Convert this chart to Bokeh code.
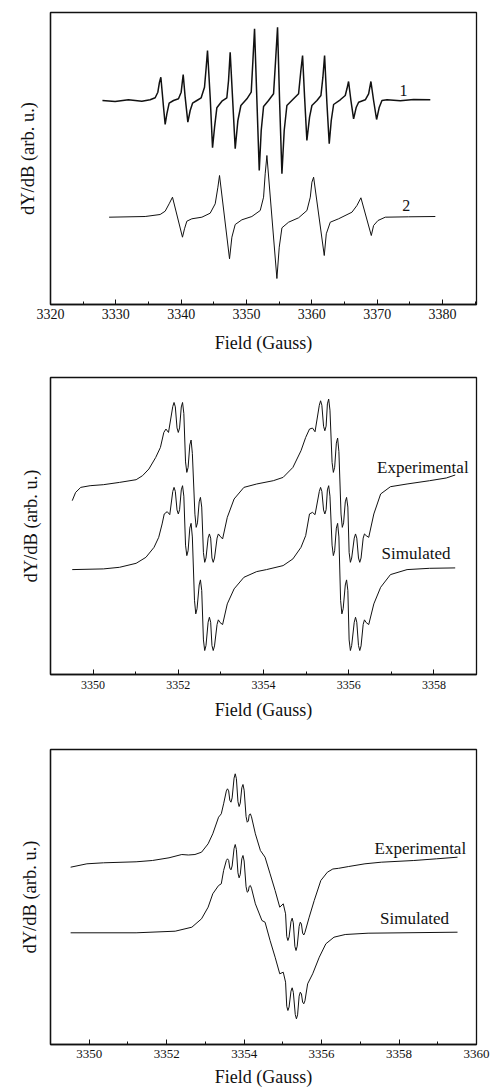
from bokeh.plotting import figure
from bokeh.models import Range1d, FixedTicker, ColumnDataSource
from bokeh.layouts import column
from bokeh.embed import file_html
from bokeh.resources import INLINE
from bokeh.core.properties import value

SERIF = "Liberation Serif"
INK = "#111111"

# ---------------- Panel 1 data ----------------
p1_ticks = [3320, 3330, 3340, 3350, 3360, 3370, 3380]
p1_minor = [3325, 3335, 3345, 3355, 3365, 3375, 3385]

p1_s1_field = [3327.95, 3329.89, 3331.93, 3333.98, 3335.25, 3336.02, 3336.43, 3336.68, 3336.89,
               3337.30, 3337.55, 3337.81, 3338.16, 3338.83, 3339.59, 3340.00, 3340.20, 3340.31,
               3340.61, 3341.02, 3341.38, 3341.74, 3342.40, 3343.06, 3343.57, 3343.83, 3344.03,
               3344.44, 3344.80, 3345.11, 3345.46, 3346.23, 3346.99, 3347.25, 3347.50, 3347.86,
               3348.27, 3348.68, 3349.14, 3350.06, 3350.72, 3350.98, 3351.23, 3351.59, 3351.95,
               3352.25, 3352.61, 3353.37, 3354.14, 3354.45, 3354.75, 3355.06, 3355.42, 3355.77,
               3356.18, 3357.20, 3357.97, 3358.32, 3358.58, 3358.89, 3359.24, 3359.65, 3360.01,
               3360.78, 3361.39, 3361.69, 3361.95, 3362.31, 3362.66, 3362.97, 3363.33, 3364.35,
               3365.11, 3365.37, 3365.62, 3365.98, 3366.39, 3366.80, 3367.16, 3368.18, 3368.69,
               3369.04, 3369.45, 3369.91, 3370.32, 3370.73, 3371.50, 3373.54, 3375.58, 3378.13]
p1_s1_signal = [204, 203, 204.7, 203.3, 204.7, 206.7, 212.3, 222.3, 227.3,
                197.3, 180, 190.7, 201.3, 204, 205.7, 212.3, 224, 230,
                207.3, 182.3, 194, 201.3, 204, 206.7, 217.3, 237.3, 254,
                207.3, 156.7, 177.3, 196.7, 203.3, 206.7, 224, 252.3, 207.3,
                155.7, 184, 199, 205.7, 212.3, 244, 275.7, 204, 134,
                174, 198, 204, 210.7, 244, 277.3, 204, 130.7, 174,
                199, 205.7, 210.7, 234, 249, 207.3, 164, 187.3, 199,
                204, 209, 227.3, 249, 200.7, 160.7, 184, 200, 204.7,
                209, 215.7, 223, 204, 185.7, 197.3, 202.3, 204.7, 210.7,
                223, 204, 185, 197.3, 204, 204.7, 203.7, 205, 204.7]

p1_s2_field = [3328.97, 3334.49, 3336.78, 3337.55, 3338.16, 3338.67, 3340.20, 3340.51, 3340.87,
               3341.63, 3343.17, 3344.44, 3345.21, 3345.62, 3345.87, 3347.40, 3347.76, 3348.27,
               3349.29, 3350.82, 3352.10, 3352.61, 3352.86, 3353.12, 3354.65, 3355.01, 3355.42,
               3356.44, 3357.97, 3359.25, 3359.76, 3360.01, 3360.27, 3361.90, 3362.21, 3362.82,
               3364.09, 3366.14, 3366.90, 3367.51, 3369.10, 3369.45, 3370.12, 3371.24, 3374.81,
               3378.90]
p1_s2_signal = [87.3, 88, 90, 93.3, 100.7, 107.3, 67.3, 75.7, 83.3,
                85.7, 87.3, 91.3, 100.7, 117.3, 129, 45.7, 67.3, 80,
                84.7, 88, 94, 107.3, 130.7, 149, 26, 57.3, 76.7,
                82.3, 86.7, 94, 107.3, 122.3, 127.3, 49, 70.7, 82.3,
                85.7, 92.3, 99, 106.7, 69, 79, 84, 87.3, 87.7,
                88]

p1_labels = ["1", "2"]
p1_label_field = [3374.04, 3374.46]
p1_label_signal = [214, 99]

# ---------------- Panel 2 data ----------------
p2_ticks = [3350, 3352, 3354, 3356, 3358]
p2_minor = [3351, 3353, 3355, 3357, 3359]

p2_exp_field = [3349.51, 3349.59, 3349.71, 3349.93, 3350.24, 3350.62, 3351.01, 3351.16, 3351.31,
                3351.47, 3351.58, 3351.66, 3351.71, 3351.77, 3351.87, 3351.90, 3351.93, 3351.97,
                3352.00, 3352.03, 3352.07, 3352.10, 3352.13, 3352.17, 3352.20, 3352.23, 3352.27,
                3352.30, 3352.33, 3352.39, 3352.42, 3352.45, 3352.49, 3352.52, 3352.55, 3352.59,
                3352.62, 3352.65, 3352.70, 3352.73, 3352.76, 3352.79, 3352.82, 3352.85, 3352.91,
                3352.94, 3352.98, 3353.04, 3353.15, 3353.31, 3353.54, 3353.84, 3354.23, 3354.46,
                3354.69, 3354.88, 3354.99, 3355.08, 3355.15, 3355.21, 3355.31, 3355.34, 3355.37,
                3355.41, 3355.44, 3355.47, 3355.50, 3355.53, 3355.56, 3355.61, 3355.64, 3355.67,
                3355.71, 3355.74, 3355.77, 3355.82, 3355.85, 3355.88, 3355.92, 3355.95, 3355.98,
                3356.01, 3356.04, 3356.07, 3356.13, 3356.16, 3356.19, 3356.23, 3356.26, 3356.29,
                3356.34, 3356.37, 3356.41, 3356.47, 3356.59, 3356.75, 3356.98, 3357.37, 3357.90,
                3358.29, 3358.50]
p2_exp_signal = [174, 182.3, 187.3, 189, 190, 192.3, 195, 199, 205.7,
                 217.3, 227.3, 242.3, 245.7, 242.3, 268.2, 272.3, 267.9, 246.8,
                 242.3, 246.8, 267.8, 272.3, 261.3, 212.8, 202.3, 207.2, 229.8,
                 234.7, 221.4, 160.5, 147.3, 151.8, 172.8, 177.3, 167.6, 122,
                 112.3, 116.6, 136.5, 140.7, 136.5, 116.6, 112.3, 116.6, 136.5,
                 140.7, 138.5, 135.7, 157.3, 175.7, 187.3, 190.7, 194, 197.3,
                 207.3, 224, 237.3, 245.7, 246.7, 243, 269.5, 274, 269.5,
                 248.5, 244, 248.7, 270.9, 275.7, 264.6, 212.3, 202.3, 207.4,
                 231.6, 236.7, 223.1, 160.6, 147.3, 151.8, 172.8, 177.3, 167.6,
                 122, 112.3, 116.6, 136.5, 140.7, 136.5, 116.6, 112.3, 116.6,
                 136.5, 140.7, 139, 137.3, 160.7, 180.7, 188, 190.7, 194,
                 196.7, 199.7]

p2_sim_field = [3349.51, 3350.24, 3350.62, 3351.01, 3351.24, 3351.43, 3351.54, 3351.62, 3351.67,
                3351.74, 3351.80, 3351.87, 3351.90, 3351.93, 3351.97, 3352.00, 3352.03, 3352.07,
                3352.10, 3352.13, 3352.17, 3352.20, 3352.23, 3352.27, 3352.30, 3352.33, 3352.38,
                3352.41, 3352.44, 3352.49, 3352.52, 3352.55, 3352.59, 3352.62, 3352.65, 3352.70,
                3352.73, 3352.76, 3352.79, 3352.82, 3352.85, 3352.91, 3352.94, 3352.98, 3353.04,
                3353.15, 3353.31, 3353.54, 3353.84, 3354.07, 3354.46, 3354.69, 3354.88, 3354.99,
                3355.08, 3355.15, 3355.21, 3355.31, 3355.34, 3355.37, 3355.41, 3355.44, 3355.47,
                3355.50, 3355.53, 3355.56, 3355.61, 3355.64, 3355.67, 3355.71, 3355.74, 3355.77,
                3355.81, 3355.84, 3355.87, 3355.92, 3355.95, 3355.98, 3356.01, 3356.04, 3356.07,
                3356.13, 3356.16, 3356.19, 3356.23, 3356.26, 3356.29, 3356.34, 3356.37, 3356.41,
                3356.47, 3356.59, 3356.75, 3356.98, 3357.37, 3357.90, 3358.50]
p2_sim_signal = [105, 105.7, 107.3, 111.3, 117.3, 127.3, 137.3, 150.7, 160.7,
                 163, 160, 183.2, 187.3, 183.3, 164.7, 160.7, 164.9, 184.8,
                 189, 178.5, 129.5, 119, 123.9, 146.5, 151.3, 137.7, 74.3,
                 60.7, 65.8, 89.6, 94.7, 84.1, 34.6, 24, 29, 52.3,
                 57.3, 52.3, 29, 24, 28.6, 50.1, 54.7, 52, 50,
                 70.7, 85.7, 97.3, 103, 105, 109, 115.7, 127.3, 139,
                 160.7, 162.3, 160, 183.2, 187.3, 183.3, 164.7, 160.7, 164.9,
                 184.8, 189, 178.5, 129.5, 119, 123.9, 146.5, 151.3, 137.7,
                 74.3, 60.7, 65.8, 89.6, 94.7, 84.1, 34.6, 24, 29,
                 52.3, 57.3, 52.3, 29, 24, 28.6, 50.1, 54.7, 52,
                 50, 70.7, 87.3, 100, 105, 106.3, 106.7]

p2_labels = ["Experimental", "Simulated"]
p2_label_field = [3357.74, 3357.58]
p2_label_signal = [207.3, 120.7]

# ---------------- Panel 3 data ----------------
p3_ticks = [3350, 3352, 3354, 3356, 3358, 3360]
p3_minor = [3351, 3353, 3355, 3357, 3359]

p3_exp_field = [3349.52, 3349.94, 3350.37, 3351.21, 3351.63, 3352.06, 3352.39, 3352.56, 3352.73,
                3352.90, 3353.07, 3353.19, 3353.34, 3353.41, 3353.47, 3353.54, 3353.57, 3353.60,
                3353.63, 3353.66, 3353.69, 3353.74, 3353.77, 3353.80, 3353.84, 3353.87, 3353.90,
                3353.94, 3353.97, 3354.00, 3354.05, 3354.08, 3354.11, 3354.13, 3354.16, 3354.19,
                3354.29, 3354.42, 3354.54, 3354.67, 3354.80, 3354.92, 3355.01, 3355.07, 3355.10,
                3355.13, 3355.16, 3355.21, 3355.24, 3355.27, 3355.31, 3355.34, 3355.37, 3355.42,
                3355.45, 3355.48, 3355.51, 3355.54, 3355.57, 3355.68, 3355.81, 3355.98, 3356.15,
                3356.29, 3356.44, 3356.70, 3357.12, 3357.54, 3358.38, 3358.97, 3359.51]
p3_exp_signal = [177.3, 180.7, 181.7, 182.7, 184, 186.7, 190, 189.5, 190,
                 192.3, 200.7, 210.7, 227.3, 230.7, 240.7, 253.4, 255.7, 253.7,
                 244.3, 242.3, 246.6, 266.4, 270.7, 265.8, 242.9, 238, 241.3,
                 256.7, 260, 254.3, 228, 222.3, 223.6, 229.4, 230.7, 227.7,
                 210.7, 194, 187.3, 170.7, 154, 137.3, 140.7, 130.7, 108,
                 104, 107.4, 122.9, 126.3, 121.7, 98.2, 94, 98.3, 118.1,
                 122.3, 120.4, 111.4, 109.5, 112.2, 127.3, 144, 164, 172.3,
                 175.5, 176.2, 178, 180.7, 182.3, 184, 185.7, 187.3]

p3_sim_field = [3349.52, 3351.21, 3352.22, 3352.65, 3352.90, 3353.07, 3353.19, 3353.34, 3353.41,
                3353.47, 3353.54, 3353.57, 3353.60, 3353.63, 3353.66, 3353.69, 3353.74, 3353.77,
                3353.80, 3353.84, 3353.87, 3353.90, 3353.94, 3353.97, 3354.00, 3354.05, 3354.08,
                3354.11, 3354.13, 3354.16, 3354.19, 3354.29, 3354.46, 3354.54, 3354.67, 3354.80,
                3354.92, 3355.01, 3355.07, 3355.10, 3355.13, 3355.16, 3355.21, 3355.24, 3355.27,
                3355.32, 3355.35, 3355.38, 3355.42, 3355.45, 3355.48, 3355.51, 3355.54, 3355.57,
                3355.64, 3355.77, 3355.94, 3356.11, 3356.32, 3356.61, 3357.20, 3359.51]
p3_sim_signal = [111.7, 111.7, 113.3, 117.3, 125.7, 137.3, 150.7, 159, 160.7,
                 174, 183.9, 185.7, 184.1, 176.4, 174.7, 178.5, 196, 200,
                 195, 171.7, 166.7, 170, 185.7, 189, 183.5, 157.8, 152.3,
                 153.3, 158, 159, 156.3, 140.7, 124, 122.3, 104, 87.3,
                 70.7, 72.3, 62.3, 38.2, 34, 37.4, 53.3, 56.7, 52.2,
                 30.1, 25.7, 29.6, 48.3, 52.3, 50.5, 42.4, 40.7, 43.7,
                 60.7, 70.7, 87.3, 100.7, 107.3, 110, 111.3, 112.3]

p3_labels = ["Experimental", "Simulated"]
p3_label_field = [3358.55, 3358.40]
p3_label_signal = [195.7, 125.7]

X_TITLE = "Field (Gauss)"
Y_TITLE = "dY/dB (arb. u.)"


def make_panel(height, xr, yr, ticks, minor, borders, tick_size, tick_standoff, title_standoff,
               y_standoff):
    left, right, top, bottom = borders
    p = figure(width=493, height=height, x_range=Range1d(*xr), y_range=Range1d(*yr),
               output_backend="svg", toolbar_location=None,
               min_border_left=left, min_border_right=right,
               min_border_top=top, min_border_bottom=bottom)
    p.xgrid.visible = False
    p.ygrid.visible = False
    p.background_fill_color = "white"
    p.border_fill_color = "white"
    p.outline_line_color = INK
    p.outline_line_width = 1.3
    p.outline_line_alpha = 1.0

    ax = p.xaxis[0]
    ax.ticker = FixedTicker(ticks=ticks, minor_ticks=minor)
    ax.axis_line_color = INK
    ax.axis_line_width = 1.3
    ax.major_tick_in = 5
    ax.major_tick_out = 0
    ax.minor_tick_in = 3
    ax.minor_tick_out = 0
    ax.major_tick_line_color = INK
    ax.minor_tick_line_color = INK
    ax.major_label_text_font = SERIF
    ax.major_label_text_font_size = tick_size
    ax.major_label_text_color = INK
    ax.major_label_standoff = tick_standoff
    ax.axis_label = X_TITLE
    ax.axis_label_text_font = SERIF
    ax.axis_label_text_font_size = "18px"
    ax.axis_label_text_font_style = "normal"
    ax.axis_label_text_color = INK
    ax.axis_label_standoff = title_standoff

    ay = p.yaxis[0]
    ay.ticker = FixedTicker(ticks=[], minor_ticks=[])
    ay.axis_line_color = INK
    ay.axis_line_width = 1.3
    ay.major_tick_out = 0
    ay.major_tick_in = 0
    ay.minor_tick_out = 0
    ay.minor_tick_in = 0
    ay.major_label_standoff = 0
    ay.axis_label = Y_TITLE
    ay.axis_label_text_font = SERIF
    ay.axis_label_text_font_size = "18.5px"
    ay.axis_label_text_font_style = "normal"
    ay.axis_label_text_color = INK
    ay.axis_label_standoff = y_standoff
    return p


# Panel 1
p1 = make_panel(360, (3320, 3385.2), (0, 292), p1_ticks, p1_minor, (50, 17, 12, 56),
                "14px", 4, 11, 13)
p1.line(p1_s1_field, p1_s1_signal, line_color=INK, line_width=1.5)
p1.line(p1_s2_field, p1_s2_signal, line_color=INK, line_width=1.0)
src1 = ColumnDataSource(dict(x=p1_label_field, y=p1_label_signal, t=p1_labels))
p1.text(x="x", y="y", text="t", source=src1, text_font=value(SERIF), text_font_size="16px",
        text_align="center", text_baseline="middle", text_color=INK)

# Panel 2
p2 = make_panel(370, (3349, 3359), (0, 297.3), p2_ticks, p2_minor, (46, 12, 17, 56),
                "12px", 6, 8, 10)
p2.line(p2_exp_field, p2_exp_signal, line_color=INK, line_width=1.0)
p2.line(p2_sim_field, p2_sim_signal, line_color=INK, line_width=1.0)
src2 = ColumnDataSource(dict(x=p2_label_field, y=p2_label_signal, t=p2_labels))
p2.text(x="x", y="y", text="t", source=src2, text_font=value(SERIF), text_font_size="17px",
        text_align="center", text_baseline="middle", text_color=INK)

# Panel 3
p3 = make_panel(362, (3349, 3360), (0, 295), p3_ticks, p3_minor, (46, 12, 19, 48),
                "13px", 5, 6, 11)
p3.line(p3_exp_field, p3_exp_signal, line_color=INK, line_width=1.0)
p3.line(p3_sim_field, p3_sim_signal, line_color=INK, line_width=1.0)
src3 = ColumnDataSource(dict(x=p3_label_field, y=p3_label_signal, t=p3_labels))
p3.text(x="x", y="y", text="t", source=src3, text_font=value(SERIF), text_font_size="17px",
        text_align="center", text_baseline="middle", text_color=INK)

layout = column(p1, p2, p3, spacing=0)
open("out.html", "w").write(file_html(layout, INLINE))
